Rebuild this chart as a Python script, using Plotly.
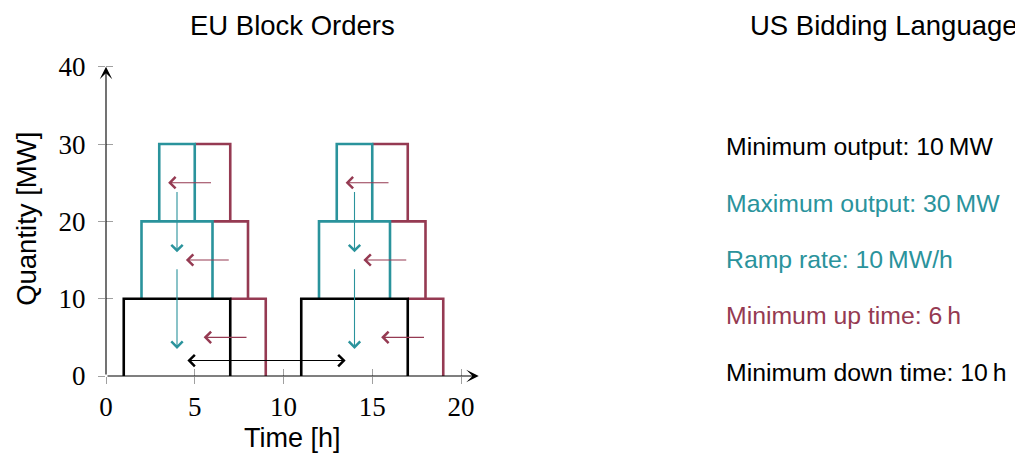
import plotly.graph_objects as go

# ---------------- data ----------------
# quantity bands of the three stacked block levels (MW)
level_low = [0, 10, 20]
level_high = [10, 20, 30]
# block order 1 / 2: start hour, end hour and end of min-up-time extension per level
b1_start = [1, 2, 3]
b1_end = [7, 6, 5]
b1_ext = [9, 8, 7]
b2_start = [11, 12, 13]
b2_end = [17, 16, 15]
b2_ext = [19, 18, 17]

# red "shift" arrows (min up time): y level, from x, to x
shift_y = [5, 15, 25]
shift_from_1 = [8, 7, 6]
shift_to_1 = [5.5, 4.5, 3.5]
shift_from_2 = [18, 17, 16]
shift_to_2 = [15.5, 14.5, 13.5]
# teal "ramp" arrows: x position, from y, to y
ramp_x = [4, 14]
ramp_from = [24, 14]
ramp_to = [16, 3.5]
# black double arrow (min down time)
down_y = 2
down_from = 4.5
down_to = 13.5

x_ticks = [0, 5, 10, 15, 20]
y_ticks = [0, 10, 20, 30, 40]
x_axis_end = 21
y_axis_end = 40

us_lines = [
    "Minimum output: 10\u2009MW",
    "Maximum output: 30\u2009MW",
    "Ramp rate: 10\u2009MW/h",
    "Minimum up time: 6\u2009h",
    "Minimum down time: 10\u2009h",
]

# ---------------- styles ----------------
TEAL = "#2a939c"
RED = "#953a52"
BLACK = "#000000"
TICK = "#a0a0a0"
SANS = "Liberation Sans, Arial, sans-serif"
SERIF = "Liberation Serif, Times New Roman, serif"
us_colors = [BLACK, TEAL, TEAL, RED, BLACK]

OFF = 8  # default page margin of the html body
W, H = 1023 - OFF, 453 - OFF
ORIGIN_X, ORIGIN_Y = 106, 376  # screen pixels of the data origin
px_x = 17.75
px_y = 7.725
x_max = 21.3
y_max = 41
plot_w = x_max * px_x
plot_h = y_max * px_y
ML = ORIGIN_X - OFF
MB = H - (ORIGIN_Y - OFF)
MT = H - MB - plot_h
pw_total = W - ML


def px2paper_x(px):
    return (px - ORIGIN_X) / pw_total


def px2paper_y(py):
    return (ORIGIN_Y - py) / plot_h


fig = go.Figure()


def add_poly(xs, ys, color):
    fig.add_trace(go.Scatter(x=xs, y=ys, mode="lines",
                             line=dict(color=color, width=2.6),
                             hoverinfo="skip", showlegend=False))


def block_polys(starts, ends, exts):
    black_x, black_y, teal_x, teal_y, red_x, red_y = [], [], [], [], [], []
    for i in range(len(level_low)):
        lo, hi = level_low[i], level_high[i]
        sx = [starts[i], starts[i], ends[i], ends[i], None]
        sy = [lo, hi, hi, lo, None]
        if i == 0:
            black_x += sx
            black_y += sy
        else:
            teal_x += sx
            teal_y += sy
        red_x += [ends[i], exts[i], exts[i], None]
        red_y += [hi, hi, lo, None]
    return black_x, black_y, teal_x, teal_y, red_x, red_y


for starts, ends, exts in [(b1_start, b1_end, b1_ext), (b2_start, b2_end, b2_ext)]:
    bx, by, tx, ty, rx, ry = block_polys(starts, ends, exts)
    add_poly(rx, ry, RED)
    add_poly(tx, ty, TEAL)
    add_poly(bx, by, BLACK)

ann = []


def arrow(x0, y0, x1, y1, color, head=4, size=2.0, width=1.1, both=False):
    d = dict(x=x1, y=y1, ax=x0, ay=y0, xref="x", yref="y", axref="x", ayref="y",
             text="", showarrow=True, arrowhead=head, arrowsize=size,
             arrowwidth=width, arrowcolor=color, standoff=0, startstandoff=0)
    if both:
        d.update(arrowside="end+start", startarrowhead=head, startarrowsize=size)
    ann.append(d)


for i in range(len(shift_y)):
    arrow(shift_from_1[i], shift_y[i], shift_to_1[i], shift_y[i], RED)
    arrow(shift_from_2[i], shift_y[i], shift_to_2[i], shift_y[i], RED)
for x in ramp_x:
    for i in range(len(ramp_from)):
        arrow(x, ramp_from[i], x, ramp_to[i], TEAL)
arrow(down_from, down_y, down_to, down_y, BLACK, both=True)

# axis lines with arrow tips
arrow(0, 0, x_axis_end, 0, BLACK, head=3, size=1.9, width=1.1)
arrow(0, 0, 0, y_axis_end, BLACK, head=3, size=1.9, width=1.1)

# titles
ann.append(dict(text="EU Block Orders", x=px2paper_x(292), y=px2paper_y(25.5),
                xref="paper", yref="paper", showarrow=False, xanchor="center",
                yanchor="middle", font=dict(family=SANS, size=27.5, color=BLACK)))
ann.append(dict(text="US Bidding Language", x=px2paper_x(748), y=px2paper_y(25.5),
                xref="paper", yref="paper", showarrow=False, xanchor="left",
                yanchor="middle", font=dict(family=SANS, size=27.5, color=BLACK)))
ann.append(dict(text="Time [h]", x=px2paper_x(292), y=px2paper_y(437.5),
                xref="paper", yref="paper", showarrow=False, xanchor="center",
                yanchor="middle", font=dict(family=SANS, size=27, color=BLACK)))
ann.append(dict(text="Quantity [MW]", x=px2paper_x(27), y=px2paper_y(219),
                xref="paper", yref="paper", showarrow=False, xanchor="center",
                yanchor="middle", textangle=-90,
                font=dict(family=SANS, size=27.5, color=BLACK)))

baselines = [155, 211.7, 268, 324, 381]
for txt, col, b in zip(us_lines, us_colors, baselines):
    ann.append(dict(text=txt, x=px2paper_x(724), y=px2paper_y(b - 8.5),
                    xref="paper", yref="paper", showarrow=False, xanchor="left",
                    yanchor="middle", font=dict(family=SANS, size=24.8, color=col)))

dom_x = plot_w / pw_total
common_x = dict(range=[0, x_max], tickvals=x_ticks, showgrid=False, zeroline=False,
                showline=False, tickcolor=TICK, ticklen=7, tickwidth=1)
common_y = dict(range=[0, y_max], tickvals=y_ticks, showgrid=False, zeroline=False,
                showline=False, tickcolor=TICK, ticklen=7, tickwidth=1)

fig.update_layout(
    width=W, height=H,
    margin=dict(l=ML, r=0, t=MT, b=MB, autoexpand=False),
    paper_bgcolor="white", plot_bgcolor="white",
    xaxis=dict(domain=[0, dom_x], ticks="outside", anchor="y", ticklabelstandoff=0,
               tickfont=dict(family=SERIF, size=27, color=BLACK), **common_x),
    yaxis=dict(domain=[0, 1], ticks="outside", anchor="x", ticklabelstandoff=7,
               tickfont=dict(family=SERIF, size=27, color=BLACK), **common_y),
    xaxis2=dict(domain=[0, dom_x], ticks="inside", overlaying="x", anchor="y",
                side="bottom", showticklabels=False, **common_x),
    yaxis2=dict(domain=[0, 1], ticks="inside", overlaying="y", anchor="x",
                side="left", showticklabels=False, **common_y),
    annotations=ann,
    showlegend=False,
)
# an invisible trace to activate the overlay axes
fig.add_trace(go.Scatter(x=[None], y=[None], xaxis="x2", yaxis="y2",
                         showlegend=False, hoverinfo="skip"))

fig.write_html("out.html")
